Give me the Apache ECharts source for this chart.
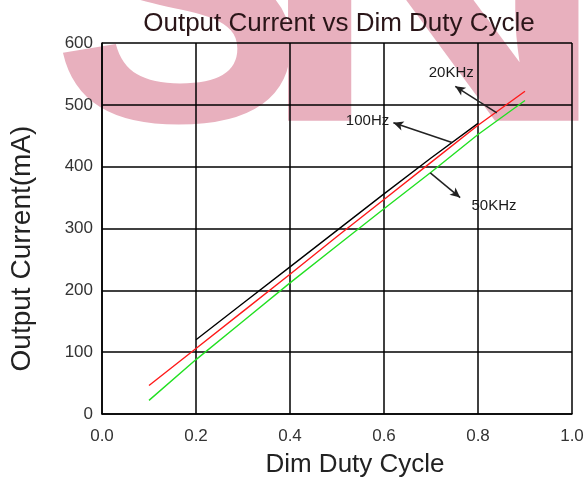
<!DOCTYPE html>
<html><head><meta charset="utf-8">
<script src="https://cdn.jsdelivr.net/npm/echarts@6/dist/echarts.min.js"></script>
<style>html,body{margin:0;padding:0;background:#fff}#c{width:587px;height:483px}</style>
</head><body><div id="c"></div>
<script>
var titleText = 'Output Current vs Dim Duty Cycle';
var xName = 'Dim Duty Cycle';
var yName = 'Output Current(mA)';
var xTicks = [0, 0.2, 0.4, 0.6, 0.8, 1.0];
var yTicks = [0, 100, 200, 300, 400, 500, 600];

var x20k = [0.1, 0.2, 0.3, 0.4, 0.5, 0.6, 0.7, 0.8, 0.9];
var y20k = [46, 106, 166, 226, 287, 347, 407, 467, 522];
var x50k = [0.1, 0.2, 0.3, 0.4, 0.5, 0.6, 0.7, 0.8, 0.9];
var y50k = [22, 88, 150, 212, 272, 332, 391, 452, 507];
var x100 = [0.2, 0.3, 0.4, 0.5, 0.6, 0.7, 0.8];
var y100 = [120, 179, 238, 297, 356, 414, 470];

// annotation labels (data coords) and arrows [textEnd, curveEnd]
var annLabels = ['20KHz', '100Hz', '50KHz'];
var annLabelPos = [[0.743, 551], [0.565, 474], [0.834, 336]];
var annArrows = [
  [[0.7516, 530], [0.840, 487]],
  [[0.620, 471], [0.7446, 439]],
  [[0.762, 350], [0.6985, 390]]
];

// background watermark letters
var wmLetters = ['S', 'N'];

function pairs(xs, ys){ return xs.map(function(x,i){return [x, ys[i]];}); }

var chart = echarts.init(document.getElementById('c'), null, {renderer:'canvas'});
var font = '"Liberation Sans", Arial, sans-serif';
var wmStyle = {fontFamily: font, fontWeight: 'bold', fontSize: 380, fill: '#e8b0be', verticalAlign: 'top'};
chart.setOption({
  backgroundColor: '#ffffff',
  animation: false,
  title: {
    text: titleText, left: 334, top: 6, textAlign: 'center',
    textStyle: {fontFamily: font, fontSize: 26, fontWeight: 'normal', color: '#2a1518'}
  },
  graphic: [
    {type: 'text', z: -10, x: 52, y: -174, silent: true,
     style: Object.assign({text: wmLetters[0]}, wmStyle)},
    {type: 'text', z: -10, x: 255, y: -174, scaleX: 1.3, silent: true,
     style: Object.assign({text: wmLetters[1]}, wmStyle)},
    {type: 'rect', z: -9, silent: true, shape: {x: 0, y: 130, width: 587, height: 353}, style: {fill: '#ffffff'}}
  ],
  grid: {left: 101, right: 15, top: 43, bottom: 67, show: false},
  xAxis: {
    type: 'value', min: xTicks[0], max: xTicks[xTicks.length-1], interval: 0.2,
    name: xName, nameLocation: 'middle', nameGap: 38,
    nameTextStyle: {fontFamily: font, fontSize: 26, color: '#222', padding: [0,0,0,36]},
    axisLine: {show: true, onZero: false, lineStyle: {color: '#000', width: 1.5}},
    axisTick: {show: false},
    axisLabel: {margin: 14, fontFamily: font, fontSize: 17, color: '#333', formatter: function(v){return v.toFixed(1);}},
    splitLine: {show: true, lineStyle: {color: '#000', width: 1.5}}
  },
  yAxis: {
    type: 'value', min: yTicks[0], max: yTicks[yTicks.length-1], interval: 100,
    name: yName, nameLocation: 'middle', nameGap: 66,
    nameTextStyle: {fontFamily: font, fontSize: 28, color: '#222', padding: [0, 40, 0, 0]},
    axisLine: {show: true, lineStyle: {color: '#000', width: 1.5}},
    axisTick: {show: false},
    axisLabel: {margin: 9, fontFamily: font, fontSize: 17, color: '#333'},
    splitLine: {show: true, lineStyle: {color: '#000', width: 1.5}}
  },
  series: [
    {name: '100Hz', type: 'line', data: pairs(x100, y100), symbol: 'none',
     lineStyle: {color: '#000', width: 1.4}},
    {name: '20KHz', type: 'line', data: pairs(x20k, y20k), symbol: 'none',
     lineStyle: {color: '#ff1a1a', width: 1.4}},
    {name: '50KHz', type: 'line', data: pairs(x50k, y50k), symbol: 'none',
     lineStyle: {color: '#22e022', width: 1.4},
     markLine: {
       silent: true, animation: false, symbol: ['arrow', 'none'], symbolSize: [7, 10],
       label: {show: false},
       lineStyle: {color: '#222', width: 1.5, type: 'solid'},
       data: annArrows.map(function(a){return [{coord: a[0]}, {coord: a[1]}];})
     },
     markPoint: {
       silent: true, symbol: 'circle', symbolSize: 0,
       label: {show: true, position: 'inside', fontFamily: font, fontSize: 15, color: '#1a1a1a', formatter: function(p){return p.name;}},
       data: annLabels.map(function(t,i){return {name: t, coord: annLabelPos[i]};})
     }}
  ]
});
</script></body></html>
